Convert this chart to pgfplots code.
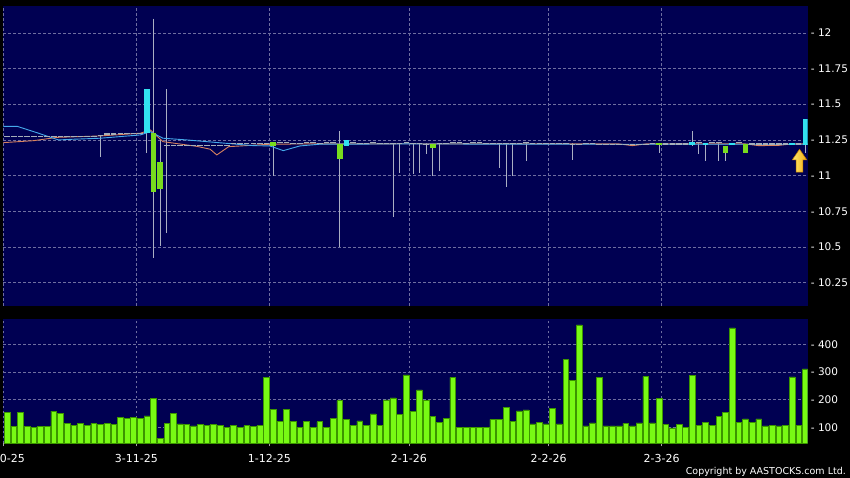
\documentclass[border=0pt]{standalone}
\usepackage{fontspec}
\setmainfont{DejaVu Sans}
\usepackage{pgfplots}
\pgfplotsset{compat=1.18}
\definecolor{navy}{RGB}{0,0,82}
\definecolor{gridc}{RGB}{110,110,160}
\definecolor{volg}{RGB}{120,250,20}
\definecolor{volgd}{RGB}{60,150,0}
\definecolor{upc}{RGB}{50,225,240}
\definecolor{dnc}{RGB}{120,220,30}
\definecolor{wickc}{RGB}{170,175,195}
\definecolor{dojic}{RGB}{165,175,185}
\definecolor{maB}{RGB}{70,170,235}
\definecolor{maO}{RGB}{215,130,95}
\begin{document}
\begin{tikzpicture}
\fill[black] (0pt,0pt) rectangle (850pt,478pt);
\pgfplotsset{
  base/.style={scale only axis, width=804.2pt, xmin=-0.6, xmax=120.33,
    axis background/.style={fill=navy}, axis line style={draw=none},
    xtick={-0.6,19.4,39.4,60.4,81.4,98.4},
    grid=major, grid style={gridc, dash pattern=on 2.5pt off 2.5pt, line width=0.6pt},
    ytick style={draw=none},
    ticklabel style={text=white, font=\fontsize{10.5}{12}\selectfont},
    /pgf/number format/assume math mode=true,
    yticklabel pos=right, anchor=south west, clip=true,
    yticklabel style={anchor=west, inner sep=0pt, xshift=3.2pt},
  }
}
% ---------------- price panel ----------------
\begin{axis}[base, at={(3.3pt,172pt)}, height=300pt, ymin=10.087, ymax=12.188,
  ytick={10.25,10.5,10.75,11,11.25,11.5,11.75,12},
  yticklabels={- 10.25,- 10.5,- 10.75,- 11,- 11.25,- 11.5,- 11.75,- 12},
  xticklabels={,,,,,}, xtick style={draw=none}]
% wicks
\addplot[wickc, line width=0.9pt, unbounded coords=jump] coordinates {
(14,11.28)(14,11.13)(nan,nan)
(21,11.30)(21,11.16)(nan,nan)
(22,12.10)(22,10.42)(nan,nan)
(23,11.26)(23,10.51)(nan,nan)
(24,11.605)(24,10.60)(nan,nan)
(40,11.234)(40,11.0)(nan,nan)
(50,11.313)(50,10.503)(nan,nan)
(58,11.225)(58,10.71)(nan,nan)
(59,11.225)(59,11.02)(nan,nan)
(61,11.225)(61,11.01)(nan,nan)
(62,11.225)(62,11.02)(nan,nan)
(63,11.225)(63,11.15)(nan,nan)
(64,11.224)(64,11.0)(nan,nan)
(65,11.225)(65,11.03)(nan,nan)
(74,11.225)(74,11.05)(nan,nan)
(75,11.225)(75,10.92)(nan,nan)
(76,11.225)(76,11.0)(nan,nan)
(78,11.225)(78,11.10)(nan,nan)
(85,11.225)(85,11.11)(nan,nan)
(98,11.23)(98,11.157)(nan,nan)
(103,11.31)(103,11.21)(nan,nan)
(104,11.225)(104,11.15)(nan,nan)
(105,11.215)(105,11.10)(nan,nan)
(107,11.225)(107,11.10)(nan,nan)
(108,11.21)(108,11.10)(nan,nan)
(120,11.213)(120,11.16)
};
% doji (open = close)
\addplot[only marks, mark=-, mark size=2.8pt, mark options={dojic, line width=1.2pt}] coordinates {
(0,11.272)(1,11.272)(2,11.272)(3,11.272)(4,11.272)(5,11.272)(6,11.272)
(7,11.275)(8,11.275)(9,11.275)(10,11.275)(11,11.275)(12,11.275)(13,11.275)
(14,11.28)(15,11.292)(16,11.292)(17,11.295)(18,11.295)(19,11.297)(20,11.297)
(24,11.21)(25,11.21)(26,11.21)(27,11.21)(28,11.21)(29,11.21)(30,11.21)(31,11.21)(32,11.21)(33,11.21)
(34,11.226)(35,11.226)(36,11.226)(37,11.226)(38,11.226)(39,11.226)
(41,11.232)(42,11.232)(43,11.225)(44,11.225)(45,11.232)(46,11.232)(47,11.225)(48,11.232)(49,11.232)
(52,11.232)(53,11.225)(54,11.225)(55,11.232)(56,11.225)(57,11.225)(58,11.225)(59,11.225)(60,11.232)
(61,11.225)(62,11.225)(63,11.22)(65,11.225)(66,11.225)(67,11.232)(68,11.232)(69,11.225)(70,11.232)
(71,11.232)(72,11.225)(73,11.225)(74,11.225)(75,11.225)(76,11.225)(77,11.225)(78,11.232)(79,11.225)
(80,11.225)(81,11.225)(82,11.225)(83,11.225)(84,11.225)(85,11.22)(86,11.22)(87,11.225)(88,11.225)
(89,11.22)(90,11.22)(91,11.22)(92,11.22)(93,11.22)(94,11.22)(95,11.22)(96,11.22)(97,11.225)
(99,11.222)(100,11.222)(101,11.222)(102,11.222)(104,11.232)(106,11.232)(107,11.232)(110,11.232)
(112,11.222)(113,11.222)(114,11.222)(115,11.222)(116,11.222)(117,11.222)(119,11.222)
};
% moving averages
\addplot[maO, line width=0.9pt] coordinates {
(-0.6,11.231)(4,11.245)(7.5,11.268)(14,11.278)(20,11.297)(21.5,11.32)(23.4,11.238)
(28.5,11.205)(30.5,11.185)(31.5,11.145)(33.3,11.203)(39.5,11.22)(45,11.222)(60,11.223)
(80,11.222)(92,11.222)(94,11.21)(96,11.222)(111,11.222)(113,11.21)(116,11.212)(118,11.222)(120.33,11.222)
};
\addplot[maB, line width=0.9pt] coordinates {
(-0.6,11.345)(1.5,11.345)(4.5,11.30)(7.7,11.25)(10,11.255)(14,11.262)(20,11.285)(21.5,11.308)
(23.4,11.262)(27,11.25)(31.5,11.232)(37,11.21)(39.5,11.208)(41.5,11.175)(44,11.208)(47,11.22)
(60,11.222)(80,11.22)(100,11.22)(120.33,11.22)
};
% bodies
\addplot[upc, line width=5.6pt, unbounded coords=jump] coordinates {
(21,11.297)(21,11.605)(nan,nan)
(51,11.21)(51,11.252)(nan,nan)
(103,11.212)(103,11.232)(nan,nan)
(105,11.215)(105,11.23)(nan,nan)
(109,11.212)(109,11.226)(nan,nan)
(118,11.212)(118,11.226)(nan,nan)
(120,11.213)(120,11.40)
};
\addplot[dnc, line width=5.6pt, unbounded coords=jump] coordinates {
(22,11.30)(22,10.884)(nan,nan)
(23,11.098)(23,10.905)(nan,nan)
(40,11.234)(40,11.21)(nan,nan)
(50,11.22)(50,11.115)(nan,nan)
(64,11.224)(64,11.192)(nan,nan)
(98,11.23)(98,11.212)(nan,nan)
(108,11.21)(108,11.157)(nan,nan)
(111,11.222)(111,11.157)
};
% arrow marker
\draw[draw={rgb,255:red,190;green,120;blue,0}, left color={rgb,255:red,255;green,235;blue,110},
  right color={rgb,255:red,240;green,170;blue,20}, line width=0.5pt]
  (axis cs:119.13,11.185) -- ++(7.3pt,-10.7pt) -- ++(-3.95pt,0pt) -- ++(0pt,-12.3pt)
  -- ++(-6.7pt,0pt) -- ++(0pt,12.3pt) -- ++(-3.95pt,0pt) -- cycle;
\end{axis}
% ---------------- volume panel ----------------
\begin{axis}[base, at={(3.3pt,34.5pt)}, height=124.5pt, ymin=41.5, ymax=491,
  ytick={100,200,300,400}, yticklabels={- 100,- 200,- 300,- 400},
  xticklabels={2-10-25,3-11-25,1-12-25,2-1-26,2-2-26,2-3-26},
  xtick pos=left, xtick align=outside, major tick length=3pt,
  xtick style={draw=gray!70, line width=0.6pt},
  xticklabel style={font=\fontsize{11}{13}\selectfont, anchor=base, inner sep=0pt, yshift=-15.8pt}]
\addplot[ybar, bar width=0.86, fill=volg, draw=volgd, line width=0.6pt] coordinates {
(0,154)(1,102)(2,155)(3,102)(4,101)(5,104)(6,102)(7,158)(8,149)(9,113)
(10,106)(11,114)(12,107)(13,114)(14,111)(15,114)(16,111)(17,137)(18,131)(19,137)
(20,131)(21,141)(22,205)(23,61)(24,114)(25,149)(26,112)(27,110)(28,105)(29,110)
(30,106)(31,110)(32,106)(33,100)(34,106)(35,101)(36,106)(37,102)(38,108)(39,281)
(40,165)(41,120)(42,164)(43,120)(44,101)(45,120)(46,101)(47,120)(48,101)(49,133)
(50,196)(51,129)(52,108)(53,123)(54,108)(55,148)(56,107)(57,199)(58,206)(59,146)
(60,289)(61,158)(62,235)(63,198)(64,139)(65,117)(66,133)(67,280)(68,101)(69,101)
(70,101)(71,101)(72,101)(73,129)(74,129)(75,172)(76,122)(77,159)(78,163)(79,112)
(80,119)(81,112)(82,169)(83,112)(84,345)(85,268)(86,470)(87,105)(88,116)(89,281)
(90,105)(91,105)(92,105)(93,114)(94,105)(95,116)(96,283)(97,116)(98,204)(99,111)
(100,98)(101,111)(102,100)(103,288)(104,107)(105,119)(106,107)(107,139)(108,153)(109,459)
(110,119)(111,130)(112,119)(113,130)(114,105)(115,107)(116,105)(117,107)(118,282)(119,106)
(120,311)
};
\end{axis}
\node[anchor=base east, text=white, font=\fontsize{9.5}{11}\selectfont, inner sep=0pt] at (846pt,3.7pt) {Copyright by AASTOCKS.com Ltd.};
\pgfresetboundingbox
\path[use as bounding box] (0pt,0pt) rectangle (850pt,478pt);
\end{tikzpicture}
\end{document}
